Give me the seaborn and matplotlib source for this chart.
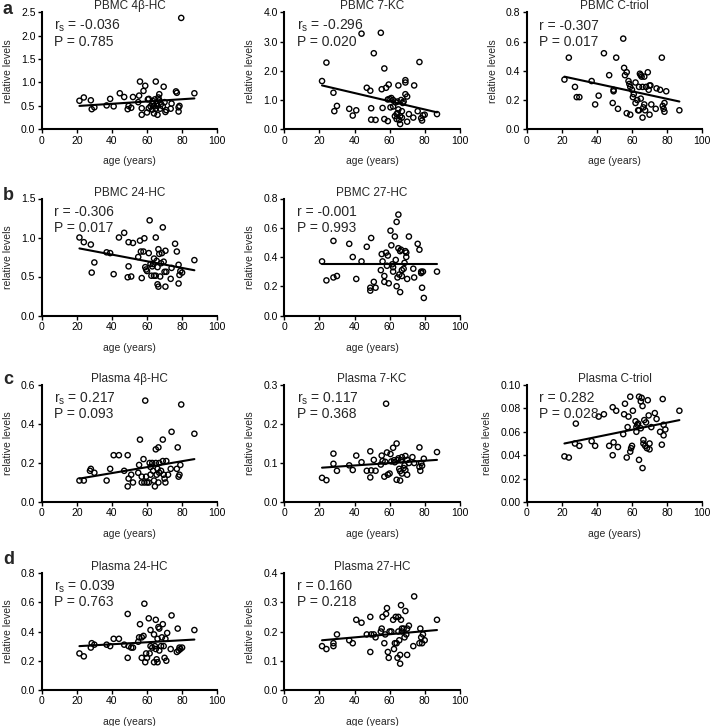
import matplotlib
matplotlib.use("Agg")
import matplotlib.pyplot as plt
import seaborn as sns
import pandas as pd
from matplotlib.ticker import MultipleLocator, FormatStrFormatter

# ---------------- data ----------------
a1_age = [21.5, 24, 28, 28.5, 30, 37, 39, 41, 44.5, 47, 49, 49.5, 51, 52, 55, 55.5, 56, 57, 57, 58, 59, 60, 60.5, 61,
          62, 63, 63.5, 64, 64.5, 65, 65, 65.5, 66, 66, 66.5, 67, 67, 67.5, 68, 69, 69.5, 70, 70.5, 71, 73.5, 74,
          76.5, 77, 78, 78, 78.5, 79.5, 87, 63, 61, 64]
a1_val = [0.61, 0.68, 0.62, 0.43, 0.47, 0.51, 0.65, 0.49, 0.77, 0.69, 0.43, 0.50, 0.46, 0.69, 0.58, 0.72, 1.02, 0.45,
          0.31, 0.82, 0.93, 0.36, 0.64, 0.65, 0.49, 0.42, 0.60, 0.34, 0.64, 1.02, 0.44, 0.55, 0.50, 0.31, 0.68, 0.75,
          0.62, 0.44, 0.54, 0.49, 0.91, 0.58, 0.37, 0.41, 0.44, 0.55, 0.81, 0.78, 0.38, 0.47, 0.50, 2.38, 0.77, 0.55,
          0.45, 0.50]

a2_age = [21.5, 24, 28, 28.5, 30, 37, 39, 41, 44, 47, 49, 49.5, 49.5, 51, 52, 55, 55.5, 56, 57, 57, 58, 59, 59, 59.5,
          60, 60.5, 61, 62, 62, 63, 63.5, 64, 64, 64.5, 65, 65, 65.5, 66, 66, 66.5, 67, 67, 67.5, 68, 69, 69, 69, 70,
          70, 71, 73.5, 74, 76, 77, 78, 78.5, 79, 80, 87, 64.5]
a2_val = [1.65, 2.28, 1.25, 0.62, 0.80, 0.70, 0.47, 0.65, 3.27, 1.42, 1.32, 0.72, 0.33, 2.60, 0.32, 3.30, 1.37, 0.73,
          2.08, 0.35, 1.42, 1.02, 0.28, 1.53, 1.04, 0.75, 1.07, 1.00, 0.78, 0.45, 0.92, 0.52, 0.35, 0.55, 1.50, 0.68,
          0.32, 0.45, 0.18, 1.00, 0.62, 0.40, 0.90, 0.95, 1.68, 1.60, 1.20, 1.12, 0.26, 0.52, 0.40, 1.50, 0.62, 2.30,
          0.38, 0.30, 0.48, 0.50, 0.52, 0.95]

a3_age = [21.5, 24, 27.5, 28.5, 30, 37, 39, 41, 44, 47, 49, 49.5, 49.5, 51, 52, 55, 55.5, 56, 57, 57, 58, 58.5, 59,
          59, 60, 60.5, 61, 62, 62, 63, 63.5, 64, 64, 64.5, 65, 65, 65.5, 66, 66, 66.5, 67, 67, 67.5, 68, 69, 69.5,
          70, 70, 70.5, 71, 73.5, 74, 76, 77, 77.5, 78, 78.5, 78.5, 79.5, 87]
a3_val = [0.34, 0.49, 0.29, 0.22, 0.22, 0.33, 0.17, 0.23, 0.52, 0.37, 0.18, 0.26, 0.27, 0.49, 0.14, 0.62, 0.42, 0.37,
          0.39, 0.11, 0.33, 0.31, 0.10, 0.29, 0.27, 0.22, 0.24, 0.32, 0.18, 0.20, 0.13, 0.29, 0.13, 0.38, 0.37, 0.21,
          0.36, 0.08, 0.29, 0.15, 0.17, 0.36, 0.13, 0.29, 0.39, 0.27, 0.30, 0.10, 0.30, 0.17, 0.14, 0.28, 0.27, 0.49,
          0.16, 0.14, 0.18, 0.12, 0.26, 0.13]

b1_age = [21.5, 24, 28, 28.5, 30, 37, 39, 41, 44, 47, 49, 49.5, 49.5, 51, 52, 55, 56, 56.5, 57, 58, 58.5, 59, 59.5,
          60, 61, 61.5, 62, 62.5, 63, 63.5, 64, 64, 65, 65, 65.5, 66, 66, 66.5, 66.5, 67, 67.5, 68, 68.5, 69, 69.5,
          70, 70.5, 70.5, 71, 73.5, 74, 76, 77, 78, 78, 78.5, 79, 80, 87]
b1_val = [1.00, 0.94, 0.91, 0.55, 0.68, 0.81, 0.80, 0.53, 1.00, 1.06, 0.49, 0.63, 0.94, 0.50, 0.93, 0.75, 0.96, 0.82,
          0.48, 0.82, 0.99, 0.62, 0.59, 0.57, 0.80, 1.22, 0.66, 0.51, 0.63, 0.66, 0.51, 0.73, 1.00, 0.51, 0.70, 0.62,
          0.40, 0.85, 0.37, 0.79, 0.50, 0.67, 0.80, 1.13, 0.69, 0.56, 0.83, 0.37, 0.56, 0.47, 0.61, 0.92, 0.82, 0.41,
          0.65, 0.52, 0.57, 0.55, 0.71]

b2_age = [21.5, 24, 28, 28, 30, 37, 39, 41, 44, 47, 49, 49, 49.5, 51, 52, 55, 55.5, 56, 57, 57, 58, 58.5, 59, 59.5,
          60.5, 61, 61.5, 62, 62, 63, 63.5, 64, 64, 64.5, 65, 65, 65.5, 66, 66, 66.5, 67, 67, 68, 68.5, 69, 69.5,
          69.5, 70, 71, 73.5, 74, 76, 77, 78, 78, 78.5, 79, 79.5, 87]
b2_val = [0.37, 0.24, 0.51, 0.26, 0.27, 0.49, 0.40, 0.25, 0.37, 0.47, 0.19, 0.17, 0.53, 0.23, 0.19, 0.31, 0.42, 0.37,
          0.27, 0.23, 0.43, 0.34, 0.41, 0.22, 0.58, 0.48, 0.35, 0.33, 0.30, 0.54, 0.38, 0.64, 0.20, 0.26, 0.69, 0.46,
          0.28, 0.44, 0.16, 0.45, 0.31, 0.27, 0.32, 0.36, 0.44, 0.43, 0.40, 0.25, 0.54, 0.32, 0.26, 0.49, 0.45, 0.29,
          0.30, 0.19, 0.30, 0.12, 0.30]

c1_age = [21.5, 24, 27.5, 28, 30, 37, 39, 41, 44, 47, 49, 49, 49.5, 51, 52, 55, 55.5, 56, 57, 57, 58, 58.5, 59, 59.5,
          60, 61, 61.5, 62, 62, 63, 63.5, 64, 64.5, 65, 65, 65.5, 66, 66.5, 66.5, 67, 67, 68, 69, 69, 69.5, 70, 70.5,
          71, 72, 73.5, 74, 77, 77.5, 78, 78.5, 79, 79.5, 87]
c1_val = [0.11, 0.11, 0.16, 0.17, 0.15, 0.11, 0.17, 0.24, 0.24, 0.16, 0.24, 0.08, 0.12, 0.14, 0.10, 0.15, 0.19, 0.32,
          0.13, 0.10, 0.22, 0.10, 0.52, 0.13, 0.10, 0.10, 0.20, 0.14, 0.18, 0.20, 0.16, 0.11, 0.08, 0.27, 0.20, 0.14,
          0.17, 0.28, 0.10, 0.20, 0.15, 0.16, 0.21, 0.32, 0.14, 0.12, 0.10, 0.21, 0.14, 0.17, 0.36, 0.17, 0.28, 0.13,
          0.14, 0.19, 0.50, 0.35]

c2_age = [21.5, 24, 28, 28, 30, 37, 39, 41, 44, 47, 49, 49, 49.5, 51, 52, 55, 55.5, 56, 57, 57.5, 58, 58.5, 59, 60,
          60.5, 61, 62, 62.5, 63, 64, 64, 64.5, 65, 65.5, 66, 66, 66.5, 67, 67, 68, 68.5, 69, 69, 70, 70, 71, 73, 74,
          77, 77, 77.5, 78, 78.5, 79.5, 87]
c2_val = [0.062, 0.056, 0.124, 0.098, 0.080, 0.094, 0.082, 0.119, 0.102, 0.080, 0.130, 0.063, 0.081, 0.108, 0.080,
          0.096, 0.119, 0.105, 0.065, 0.103, 0.252, 0.127, 0.070, 0.073, 0.123, 0.104, 0.139, 0.107, 0.102, 0.150,
          0.057, 0.107, 0.112, 0.085, 0.055, 0.079, 0.107, 0.115, 0.073, 0.087, 0.094, 0.118, 0.082, 0.070, 0.108,
          0.100, 0.115, 0.100, 0.140, 0.090, 0.080, 0.100, 0.093, 0.111, 0.128]

c3_age = [21.5, 24, 27.5, 28, 30, 37, 39, 41, 44, 47, 49, 49, 49.5, 51, 52, 55, 55.5, 56, 57, 57.5, 58, 59, 59, 59.5,
          60, 60.5, 62, 62.5, 62.5, 63, 63.5, 64, 64, 65, 65, 65.5, 66, 66, 66.5, 66.5, 67, 67.5, 68, 68.5, 69, 69.5,
          70, 70, 71, 73, 74, 76, 77, 77.5, 78, 78, 79, 87]
c3_val = [0.039, 0.038, 0.050, 0.067, 0.048, 0.052, 0.048, 0.073, 0.075, 0.048, 0.040, 0.081, 0.051, 0.078, 0.047,
          0.058, 0.075, 0.084, 0.038, 0.064, 0.073, 0.090, 0.043, 0.046, 0.048, 0.078, 0.069, 0.064, 0.060, 0.066,
          0.067, 0.090, 0.036, 0.086, 0.063, 0.089, 0.029, 0.082, 0.053, 0.050, 0.070, 0.048, 0.068, 0.046, 0.087,
          0.074, 0.045, 0.050, 0.064, 0.076, 0.071, 0.060, 0.049, 0.088, 0.057, 0.066, 0.062, 0.078]

d1_age = [21.5, 24, 28, 28.5, 30, 37, 39, 41, 44, 47, 49, 49, 49.5, 51, 52, 55, 55.5, 56, 57, 57, 58, 58.5, 59, 59.5,
          60, 61, 61.5, 62, 62, 63, 64, 64, 64.5, 65, 65, 65.5, 66, 66, 66.5, 67, 67, 68, 68.5, 69, 69.5, 70, 70.5,
          71, 71.5, 73.5, 74, 77, 77.5, 78, 78.5, 79, 80, 87]
d1_val = [0.25, 0.23, 0.29, 0.32, 0.31, 0.31, 0.30, 0.35, 0.35, 0.31, 0.22, 0.52, 0.30, 0.29, 0.29, 0.33, 0.36, 0.45,
          0.36, 0.22, 0.37, 0.59, 0.19, 0.25, 0.22, 0.49, 0.25, 0.41, 0.30, 0.29, 0.38, 0.19, 0.30, 0.48, 0.28, 0.21,
          0.35, 0.19, 0.43, 0.42, 0.27, 0.30, 0.36, 0.45, 0.30, 0.22, 0.35, 0.20, 0.39, 0.28, 0.51, 0.26, 0.42, 0.27,
          0.29, 0.28, 0.29, 0.41]

d2_age = [21.5, 24, 28, 28, 30, 37, 39, 41, 44, 47, 49, 49, 49.5, 51, 52, 55, 55.5, 56, 57, 57.5, 58, 58.5, 59, 59.5,
          60, 61, 62, 62.5, 63, 63.5, 64, 64.5, 65, 65, 65.5, 66, 66, 66.5, 66.5, 67, 67, 68, 68.5, 69, 69.5, 70, 70,
          71, 73.5, 74, 77, 77.5, 78, 78.5, 79, 80, 87]
d2_val = [0.15, 0.14, 0.16, 0.15, 0.19, 0.17, 0.16, 0.24, 0.23, 0.19, 0.25, 0.13, 0.19, 0.19, 0.18, 0.20, 0.21, 0.25,
          0.16, 0.19, 0.26, 0.28, 0.13, 0.11, 0.20, 0.20, 0.24, 0.14, 0.16, 0.25, 0.16, 0.11, 0.25, 0.20, 0.17, 0.12,
          0.09, 0.29, 0.24, 0.21, 0.20, 0.21, 0.18, 0.27, 0.19, 0.12, 0.21, 0.22, 0.15, 0.32, 0.16, 0.21, 0.18, 0.16,
          0.19, 0.17, 0.24]

titles = ["PBMC 4β-HC", "PBMC 7-KC", "PBMC C-triol", "PBMC 24-HC", "PBMC 27-HC",
          "Plasma 4β-HC", "Plasma 7-KC", "Plasma C-triol", "Plasma 24-HC", "Plasma 27-HC"]
coef_labels = ["r$_\\mathregular{s}$", "r$_\\mathregular{s}$", "r", "r", "r",
               "r$_\\mathregular{s}$", "r$_\\mathregular{s}$", "r", "r$_\\mathregular{s}$", "r"]
coef_values = ["-0.036", "-0.296", "-0.307", "-0.306", "-0.001", "0.217", "0.117", "0.282", "0.039", "0.160"]
p_values = ["0.785", "0.020", "0.017", "0.017", "0.993", "0.093", "0.368", "0.028", "0.763", "0.218"]
# fitted regression line value at youngest and oldest age
fit_start = [0.50, 1.50, 0.36, 0.86, 0.355, 0.12, 0.088, 0.050, 0.30, 0.17]
fit_end = [0.66, 0.58, 0.19, 0.58, 0.355, 0.22, 0.108, 0.070, 0.345, 0.205]
y_max = [2.5, 4.0, 0.8, 1.5, 0.8, 0.6, 0.3, 0.10, 0.8, 0.4]
y_step = [0.5, 1.0, 0.2, 0.5, 0.2, 0.2, 0.1, 0.02, 0.2, 0.1]
y_fmt = ["%.1f"] * 7 + ["%.2f"] + ["%.1f"] * 2
x_ticks = [0, 20, 40, 60, 80, 100]
panel_letters = ["a", "b", "c", "d"]

ages = [a1_age, a2_age, a3_age, b1_age, b2_age, c1_age, c2_age, c3_age, d1_age, d2_age]
vals = [a1_val, a2_val, a3_val, b1_val, b2_val, c1_val, c2_val, c3_val, d1_val, d2_val]

# ---------------- style ----------------
sns.set_theme(style="ticks")
plt.rcParams["font.family"] = ["Liberation Sans", "DejaVu Sans"]
plt.rcParams["mathtext.fontset"] = "custom"
plt.rcParams["mathtext.rm"] = "Liberation Sans"
plt.rcParams["mathtext.it"] = "Liberation Sans:italic"

W, H = 710, 726
fig = plt.figure(figsize=(W / 100, H / 100), dpi=100)

col_left = [41.7, 284.3, 526.7]
row_top = [12.3, 198.5, 385.0, 573.0]
ax_w, ax_h = 175.5, 117.0
grid = [(0, 0), (0, 1), (0, 2), (1, 0), (1, 1), (2, 0), (2, 1), (2, 2), (3, 0), (3, 1)]

for i, (r, c) in enumerate(grid):
    left = col_left[c] / W
    bottom = 1 - (row_top[r] + ax_h) / H
    ax = fig.add_axes([left, bottom, ax_w / W, ax_h / H])
    df = pd.DataFrame({"age": ages[i], "val": vals[i]})
    sns.scatterplot(data=df, x="age", y="val", ax=ax, s=14, facecolor="none",
                    edgecolor="black", linewidth=1.0, marker="o", zorder=3, clip_on=False)
    fit_df = pd.DataFrame({"age": [min(ages[i]), max(ages[i])], "val": [fit_start[i], fit_end[i]]})
    sns.lineplot(data=fit_df, x="age", y="val", ax=ax, color="black", linewidth=1.5, zorder=4)
    ax.set_xlim(0, 100)
    ax.set_xticks(x_ticks)
    ax.yaxis.set_major_locator(MultipleLocator(y_step[i]))
    ax.yaxis.set_major_formatter(FormatStrFormatter(y_fmt[i]))
    ax.set_ylim(0, y_max[i])
    for sp in ["top", "right"]:
        ax.spines[sp].set_visible(False)
    for sp in ["left", "bottom"]:
        ax.spines[sp].set_linewidth(1.5)
        ax.spines[sp].set_color("black")
    ax.tick_params(axis="both", direction="out", length=3, width=1.0, labelsize=7.5,
                   colors="black", pad=1.5)
    ax.set_xlabel("age (years)", fontsize=7.5, labelpad=7.8)
    ax.set_ylabel("relative levels", fontsize=7.5, labelpad=6)
    ax.set_title(titles[i], fontsize=8.5, pad=1)
    ax.text(0.07, 0.885, f"{coef_labels[i]} = {coef_values[i]}", transform=ax.transAxes,
            fontsize=10, va="center", ha="left")
    ax.text(0.07, 0.75, f"P = {p_values[i]}", transform=ax.transAxes,
            fontsize=10, va="center", ha="left")

letter_y = [9, 195, 380, 560]
for k, letter in enumerate(panel_letters):
    fig.text(3 / W, 1 - letter_y[k] / H, letter, fontsize=13, fontweight="bold",
             va="center", ha="left")

fig.savefig("out.png", dpi=100)
